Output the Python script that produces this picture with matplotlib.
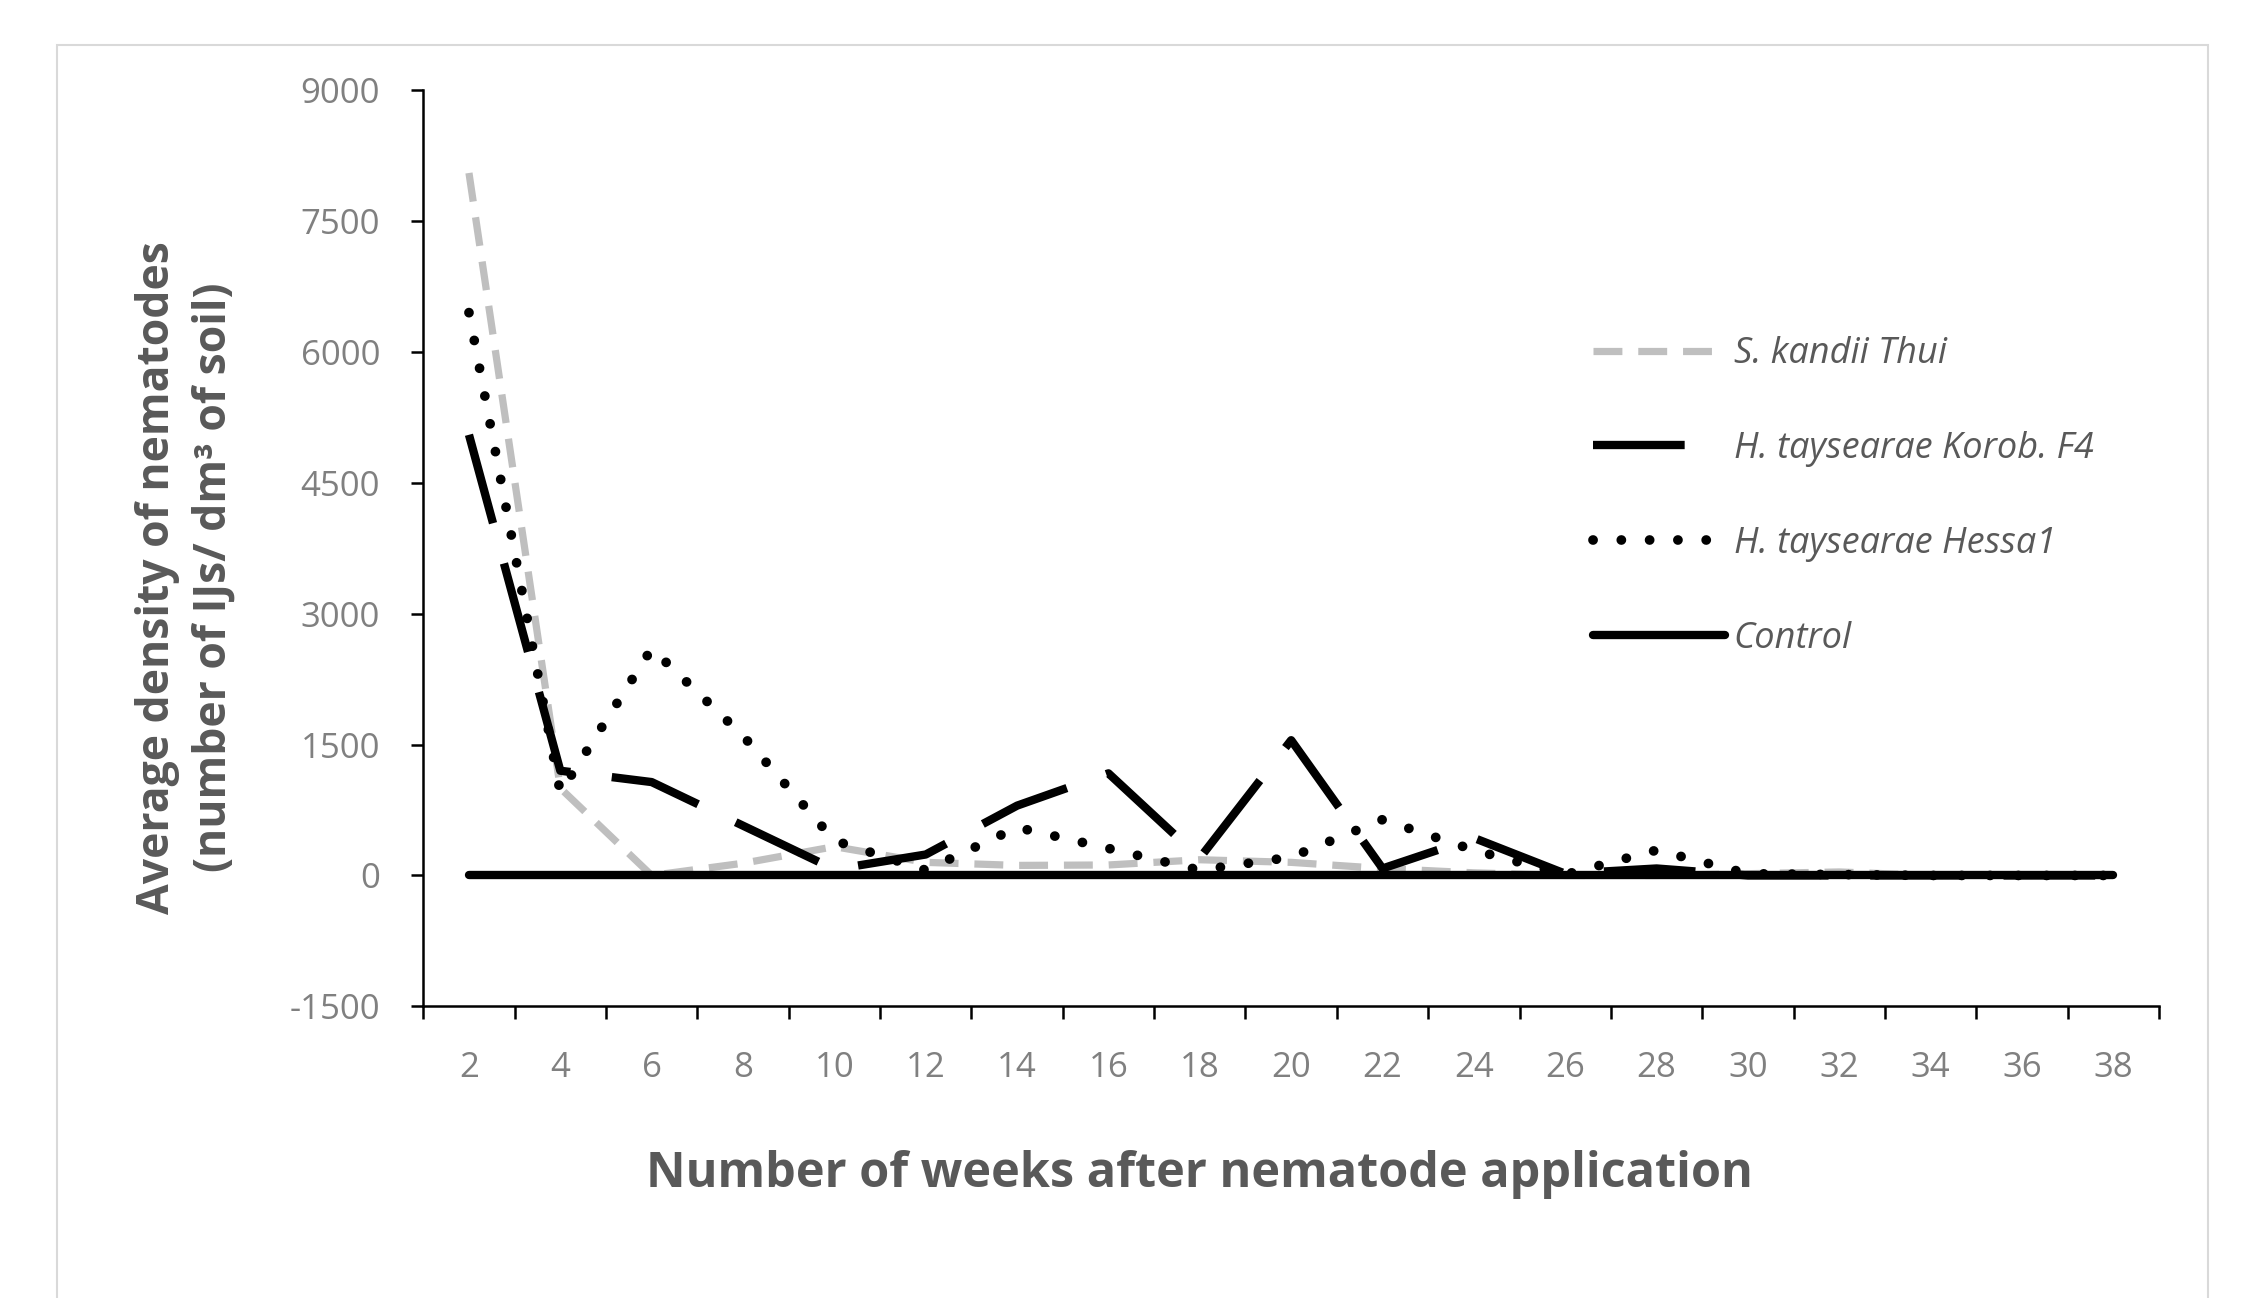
import matplotlib
matplotlib.use("Agg")
import matplotlib.pyplot as plt
from matplotlib.patches import Rectangle
from matplotlib.ticker import FixedLocator

weeks = [2, 4, 6, 8, 10, 12, 14, 16, 18, 20, 22, 24, 26, 28, 30, 32, 34, 36, 38]
s_kandii = [8050, 1000, 0, 140, 330, 150, 115, 120, 180, 150, 80, 30, 0, 0, 20, 40, 0, 0, 0]
korob_f4 = [5050, 1200, 1070, 570, 70, 240, 800, 1170, 200, 1550, 80, 430, 20, 80, 0, 0, 0, 0, 0]
hessa1 = [6450, 950, 2600, 1600, 400, 60, 550, 310, 60, 210, 640, 290, 10, 290, 20, 10, 0, 0, 0]
control = [0] * 19
series_names = ["S. kandii Thui", "H. taysearae Korob. F4", "H. taysearae Hessa1", "Control"]
yticks = [-1500, 0, 1500, 3000, 4500, 6000, 7500, 9000]

plt.rcParams['font.family'] = ['Open Sans', 'DejaVu Sans']

fig = plt.figure(figsize=(22.42, 12.98), dpi=100)
fig.add_artist(Rectangle((0.0255, -0.02), 0.985 - 0.0255, 0.965 + 0.02,
                         transform=fig.transFigure, fill=False, ec='#D9D9D9', lw=1.5))

ax = fig.add_axes([0.1888, 0.2247, 0.963 - 0.1888, 0.9306 - 0.2247])
x = list(range(len(weeks)))

l1, = ax.plot(x, s_kandii, color='#BFBFBF', lw=5.2, dashes=(4.0, 2.2), solid_capstyle='butt')
l2, = ax.plot(x, korob_f4, color='black', lw=6.0, dashes=(11, 5))
l3, = ax.plot(x, hessa1, color='black', lw=7.0, dashes=(0.01, 2.9), dash_capstyle='round')
l4, = ax.plot(x, control, color='black', lw=6.0, solid_capstyle='round')

ax.set_xlim(-0.5, 18.5)
ax.set_ylim(-1500, 9000)
ax.set_yticks(yticks)
ax.set_yticklabels([str(v) for v in yticks])
ax.set_xticks(x)
ax.set_xticklabels([str(w) for w in weeks])
ax.xaxis.set_minor_locator(FixedLocator([i - 0.5 for i in range(len(weeks) + 1)]))
ax.tick_params(axis='x', which='major', length=0, pad=32, labelsize=25, labelcolor='#808080')
ax.tick_params(axis='x', which='minor', length=9, width=1.8, direction='out', color='black')
ax.tick_params(axis='y', which='major', length=9, width=1.8, direction='out', pad=22,
               labelsize=25, labelcolor='#808080')
for s in ['top', 'right']:
    ax.spines[s].set_visible(False)
for s in ['left', 'bottom']:
    ax.spines[s].set_linewidth(1.8)
    ax.spines[s].set_color('black')

fig.text(0.535, 0.095, "Number of weeks after nematode application", ha='center', va='center',
         fontsize=35, fontweight='bold', color='#595959')
fig.text(0.083, 0.555, "Average density of nematodes\n(number of IJs/ dm³ of soil)", ha='center',
         va='center', rotation=90, fontsize=32, fontweight='bold', color='#595959',
         linespacing=1.35)

leg = fig.legend([l1, l2, l3, l4], series_names, loc='upper left',
                 bbox_to_anchor=(0.696, 0.766), frameon=False, fontsize=26,
                 handlelength=3.65, handletextpad=0.25, labelspacing=1.63)
for t in leg.get_texts():
    t.set_fontstyle('italic')
    t.set_color('#595959')

fig.savefig("out.png", dpi=100, facecolor='white')
